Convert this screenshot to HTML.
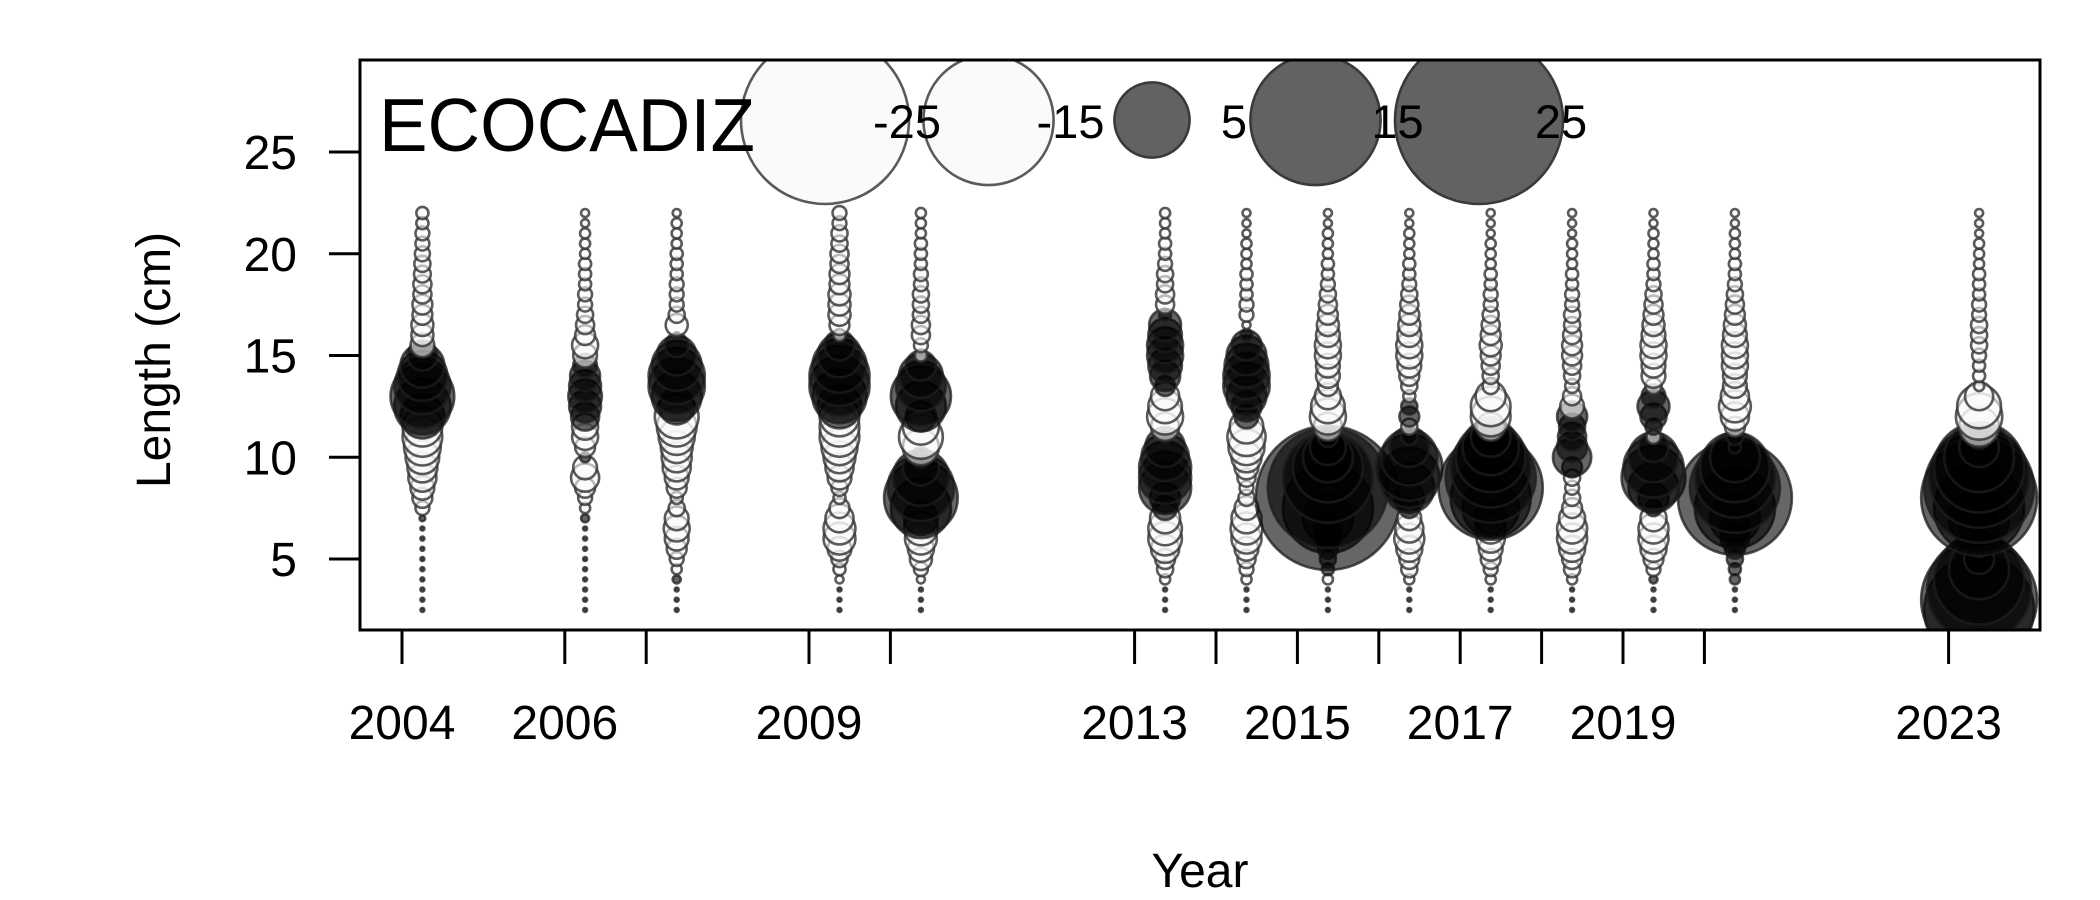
<!DOCTYPE html>
<html><head><meta charset="utf-8"><title>ECOCADIZ residuals</title>
<style>html,body{margin:0;padding:0;background:#fff;}svg{display:block;}text{font-family:"Liberation Sans",Arial,sans-serif;fill:#000;}</style>
</head><body>
<svg id="chart" width="2100" height="900" viewBox="0 0 2100 900" xmlns="http://www.w3.org/2000/svg">
<defs><clipPath id="plotclip"><rect x="360" y="60" width="1680" height="570"/></clipPath></defs>
<rect x="0" y="0" width="2100" height="900" fill="#fff"/>
<g id="bubbles" clip-path="url(#plotclip)"></g>
<g id="legend" clip-path="url(#plotclip)"></g>
<rect x="360" y="60" width="1680" height="570" fill="none" stroke="#000" stroke-width="3"/>
<text x="379" y="151" font-size="75" textLength="376" lengthAdjust="spacingAndGlyphs">ECOCADIZ</text>
<g id="axes"></g>
<text x="0" y="0" font-size="48" text-anchor="middle" transform="translate(170,360) rotate(-90)">Length (cm)</text>
<text x="1200" y="887" font-size="48" text-anchor="middle">Year</text>
</svg>
<script>
const lengths = [22,21.5,21,20.5,20,19.5,19,18.5,18,17.5,17,16.5,16,15.5,15,14.5,14,13.5,13,12.5,12,11.5,11,10.5,10,9.5,9,8.5,8,7.5,7,6.5,6,5.5,5,4.5,4,3.5,3,2.5];
const surveyYears = [2004.25,2006.25,2007.375,2009.375,2010.375,2013.375,2014.375,2015.375,2016.375,2017.375,2018.375,2019.375,2020.375,2023.375];
const res2004 = [-0.13,-0.13,-0.17,-0.17,-0.2,-0.23,-0.25,-0.29,-0.29,-0.35,-0.35,-0.43,-0.43,-0.5,0.8,1.7,2.2,2.8,3.6,2.8,1.7,-1.4,-1.4,-1.2,-1.0,-0.8,-0.7,-0.5,-0.35,-0.17,0.03,0.014,0.014,0.014,0.014,0.014,0.014,0.014,0.014,0.014];
const res2006 = [-0.057,-0.057,-0.09,-0.09,-0.09,-0.13,-0.13,-0.13,-0.17,-0.17,-0.23,-0.29,-0.35,-0.6,-0.5,0.5,0.8,0.9,1.0,0.9,0.7,-0.6,-0.6,-0.35,0.09,-0.5,-0.7,-0.35,-0.17,-0.09,0.057,0.014,0.014,0.014,0.014,0.014,0.014,0.014,0.014,0.014];
const res2007 = [-0.057,-0.09,-0.09,-0.09,-0.13,-0.13,-0.13,-0.17,-0.17,-0.17,-0.23,-0.43,0.03,0.5,1.4,2.2,2.8,2.8,2.2,1.15,-1.7,-1.4,-1.15,-0.9,-0.8,-0.7,-0.5,-0.35,-0.13,-0.23,-0.5,-0.6,-0.5,-0.35,-0.17,-0.09,0.057,0.014,0.014,0.014];
const res2009 = [-0.17,-0.17,-0.23,-0.23,-0.29,-0.29,-0.35,-0.35,-0.43,-0.43,-0.43,-0.35,-0.13,0.8,1.7,2.6,3.2,3.2,2.6,1.7,-1.4,-1.4,-1.4,-1.15,-0.9,-0.7,-0.5,-0.23,-0.13,-0.35,-0.7,-0.9,-0.9,-0.5,-0.23,-0.13,-0.057,0.014,0.014,0.014];
const res2010 = [-0.09,-0.09,-0.09,-0.13,-0.13,-0.13,-0.17,-0.17,-0.23,-0.23,-0.23,-0.29,-0.29,-0.17,-0.13,0.8,1.7,2.2,3.2,2.2,0.8,-1.15,-1.7,-1.15,0.35,1.15,2.8,3.9,4.8,3.2,1.0,-1.0,-0.9,-0.6,-0.43,-0.17,-0.057,0.014,0.014,0.014];
const res2013 = [-0.09,-0.09,-0.09,-0.13,-0.13,-0.17,-0.23,-0.23,-0.29,-0.29,0.13,0.9,1.0,1.15,1.15,1.0,0.8,0.35,-0.7,-1.0,-1.15,-0.7,0.13,1.4,2.0,2.4,2.4,2.4,0.8,0.5,-0.8,-1.0,-1.0,-0.7,-0.35,-0.23,-0.09,0.014,0.014,0.014];
const res2014 = [-0.057,-0.057,-0.057,-0.09,-0.09,-0.09,-0.13,-0.13,-0.13,-0.17,-0.17,-0.057,0.13,0.8,1.4,1.7,1.9,1.9,1.4,0.8,0.5,-1.0,-1.3,-1.15,-0.8,-0.5,-0.29,-0.17,-0.23,-0.5,-0.8,-0.9,-0.8,-0.5,-0.29,-0.17,-0.09,0.014,0.014,0.014];
const res2015 = [-0.057,-0.057,-0.09,-0.09,-0.09,-0.13,-0.13,-0.17,-0.23,-0.29,-0.35,-0.43,-0.5,-0.6,-0.6,-0.5,-0.5,-0.35,-0.6,-1.0,-1.15,-0.7,0.35,1.15,2.2,4.3,7.2,12.8,18.4,7.2,2.2,0.7,0.5,0.35,0.23,0.13,-0.09,0.014,0.014,0.014];
const res2016 = [-0.057,-0.057,-0.09,-0.09,-0.09,-0.13,-0.13,-0.17,-0.23,-0.29,-0.35,-0.43,-0.5,-0.6,-0.6,-0.5,-0.35,-0.23,-0.13,0.23,0.35,-0.23,0.23,1.4,2.8,3.9,3.2,2.2,0.8,0.35,-0.5,-0.7,-0.8,-0.6,-0.35,-0.23,-0.09,0.014,0.014,0.014];
const res2017 = [-0.057,-0.057,-0.057,-0.09,-0.09,-0.09,-0.13,-0.13,-0.17,-0.17,-0.23,-0.29,-0.35,-0.43,-0.35,-0.29,-0.23,-0.23,-0.8,-1.4,-1.4,-0.7,1.4,2.8,4.3,5.7,7.2,9.6,5.7,2.8,0.9,-0.8,-0.7,-0.5,-0.35,-0.17,-0.09,0.014,0.014,0.014];
const res2018 = [-0.057,-0.057,-0.057,-0.09,-0.09,-0.09,-0.13,-0.13,-0.17,-0.17,-0.23,-0.23,-0.29,-0.35,-0.35,-0.29,-0.23,-0.17,-0.29,-0.5,0.8,0.6,0.7,0.8,1.3,0.35,-0.23,-0.17,-0.23,-0.35,-0.6,-0.8,-0.8,-0.6,-0.35,-0.23,-0.09,0.014,0.014,0.014];
const res2019 = [-0.057,-0.057,-0.09,-0.09,-0.09,-0.13,-0.13,-0.17,-0.23,-0.29,-0.35,-0.43,-0.5,-0.6,-0.6,-0.5,-0.5,-0.23,0.5,0.9,0.6,0.23,-0.17,0.8,2.2,3.2,3.6,2.2,0.8,0.23,-0.6,-0.8,-0.8,-0.6,-0.35,-0.17,0.057,0.014,0.014,0.014];
const res2020 = [-0.057,-0.057,-0.09,-0.09,-0.09,-0.13,-0.13,-0.17,-0.23,-0.29,-0.35,-0.43,-0.5,-0.6,-0.6,-0.6,-0.5,-0.5,-0.7,-0.9,-0.7,-0.35,0.23,0.13,2.2,4.3,5.7,7.2,11.5,5.7,2.2,0.8,0.7,0.35,0.23,0.13,0.09,0.014,0.014,0.014];
const res2023 = [-0.057,-0.057,-0.057,-0.09,-0.09,-0.09,-0.13,-0.13,-0.13,-0.17,-0.17,-0.23,-0.23,-0.23,-0.17,-0.13,-0.13,-0.09,-0.7,-1.7,-1.9,-1.4,0.5,1.4,4.3,7.2,8.9,10.7,11.9,7.2,3.2,1.4,0.5,0.23,0.8,3.2,7.2,9.6,11.9,10.7];
const residualSeries = [res2004,res2006,res2007,res2009,res2010,res2013,res2014,res2015,res2016,res2017,res2018,res2019,res2020,res2023];
const xTickYears = [2004,2006,2007,2009,2010,2013,2014,2015,2016,2017,2018,2019,2020,2023];
const xLabelYears = [2004,2006,2009,2013,2015,2017,2019,2023];
const yTicks = [5,10,15,20,25];
const legendValues = [-25,-15,5,15,25];

const NS = 'http://www.w3.org/2000/svg';
function xScale(yr){ return 402 + (yr - 2004) * 81.4; }
function yScale(v){ return 559 - (v - 5) * 20.35; }
function rScale(v){ return 16.8 * Math.sqrt(Math.abs(v)); }
function styleBubble(c, v){
  if (v >= 0){ c.setAttribute('fill','rgba(0,0,0,0.6)'); c.setAttribute('stroke','rgba(30,30,30,0.75)'); }
  else { c.setAttribute('fill','rgba(250,250,250,0.6)'); c.setAttribute('stroke','rgba(50,50,50,0.8)'); }
  c.setAttribute('stroke-width','2.6');
}
const gB = document.getElementById('bubbles');
residualSeries.forEach(function(series, si){
  const g = document.createElementNS(NS,'g');
  
  
  gB.appendChild(g);
  for (let k = lengths.length - 1; k >= 0; k--){
    const v = series[k];
    const c = document.createElementNS(NS,'circle');
    c.setAttribute('cx', xScale(surveyYears[si]).toFixed(1));
    c.setAttribute('cy', yScale(lengths[k]).toFixed(1));
    c.setAttribute('r', rScale(v).toFixed(2));
    styleBubble(c, v);
    
    
    g.appendChild(c);
  }
});
const gL = document.getElementById('legend');
legendValues.forEach(function(v, i){
  const cx = 825 + i * 163.5;
  const c = document.createElementNS(NS,'circle');
  c.setAttribute('cx', cx); c.setAttribute('cy', 120); c.setAttribute('r', rScale(v).toFixed(2));
  if (v >= 0){ c.setAttribute('fill','#626262'); c.setAttribute('stroke','#3a3a3a'); }
  else { c.setAttribute('fill','#fafafa'); c.setAttribute('stroke','#5a5a5a'); }
  c.setAttribute('stroke-width','2.6');
  
  
  gL.appendChild(c);
});
legendValues.forEach(function(v, i){
  const t = document.createElementNS(NS,'text');
  t.setAttribute('x', 825 + i * 163.5 + 82); t.setAttribute('y', 138);
  t.setAttribute('font-size','47'); t.setAttribute('text-anchor','middle');
  t.textContent = String(v);
  
  
  gL.appendChild(t);
});
const gA = document.getElementById('axes');
xTickYears.forEach(function(yr){
  const l = document.createElementNS(NS,'line');
  const x = xScale(yr);
  l.setAttribute('x1', x); l.setAttribute('x2', x); l.setAttribute('y1', 630); l.setAttribute('y2', 664);
  l.setAttribute('stroke','#000'); l.setAttribute('stroke-width','3');
  
  
  gA.appendChild(l);
});
xLabelYears.forEach(function(yr){
  const t = document.createElementNS(NS,'text');
  t.setAttribute('x', xScale(yr)); t.setAttribute('y', 739);
  t.setAttribute('font-size','48'); t.setAttribute('text-anchor','middle');
  t.textContent = String(yr);
  
  
  gA.appendChild(t);
});
yTicks.forEach(function(v){
  const y = yScale(v);
  const l = document.createElementNS(NS,'line');
  l.setAttribute('x1', 329); l.setAttribute('x2', 360); l.setAttribute('y1', y); l.setAttribute('y2', y);
  l.setAttribute('stroke','#000'); l.setAttribute('stroke-width','3');
  
  
  gA.appendChild(l);
  const t = document.createElementNS(NS,'text');
  t.setAttribute('x', 297); t.setAttribute('y', y + 17);
  t.setAttribute('font-size','48'); t.setAttribute('text-anchor','end');
  t.textContent = String(v);
  
  
  gA.appendChild(t);
});
</script>
</body></html>
